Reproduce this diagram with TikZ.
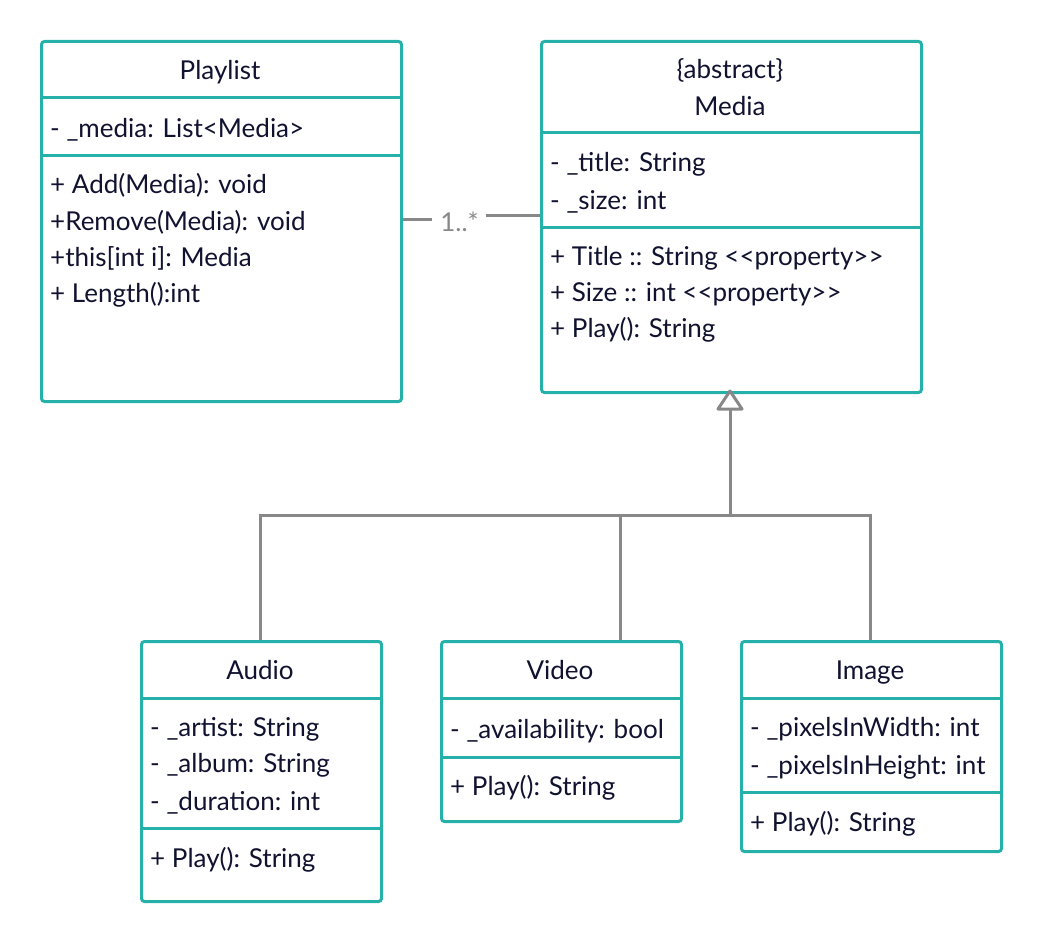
\documentclass[tikz,border=0pt]{standalone}
\usepackage{fontspec}
\setmainfont{Lato}
\definecolor{umlteal}{RGB}{38,176,170}
\definecolor{umlgray}{RGB}{136,136,136}
\definecolor{umltext}{RGB}{16,18,48}
\tikzset{
  umlbox/.style={draw=umlteal, line width=3pt, rounded corners=3pt, fill=white, anchor=north west, inner sep=0pt},
  divider/.style={draw=umlteal, line width=3pt},
  txt/.style={anchor=base west, inner sep=0pt, text=umltext, font=\fontsize{26}{30}\selectfont},
  ttl/.style={anchor=base, inner sep=0pt, text=umltext, font=\fontsize{26}{30}\selectfont},
  conn/.style={draw=umlgray, line width=3pt},
  lbl/.style={anchor=base, inner sep=0pt, text=umlgray, font=\fontsize{26}{30}\selectfont},
}
\begin{document}
\begin{tikzpicture}[x=1pt,y=-1pt]
\useasboundingbox (0,0) rectangle (1040,941);
% Playlist
\node[umlbox, minimum width=360pt, minimum height=360pt] (playlist) at (40,40) {};
\draw[divider] (playlist.west |- 0,98) -- (playlist.east |- 0,98);
\draw[divider] (playlist.west |- 0,156) -- (playlist.east |- 0,156);
\node[ttl] (pl-t) at (220,80) {Playlist};
\node[txt] (pl-a1) at (50,137.5) {- \_media: List<Media>};
\node[txt] (pl-m1) at (50,194) {+ Add(Media): void};
\node[txt] (pl-m2) at (50,230) {+Remove(Media): void};
\node[txt] (pl-m3) at (50,266) {+this[int i]: Media};
\node[txt] (pl-m4) at (50,302) {+ Length():int};
% Media
\node[umlbox, minimum width=380pt, minimum height=351pt] (media) at (540,40) {};
\draw[divider] (media.west |- 0,133) -- (media.east |- 0,133);
\draw[divider] (media.west |- 0,228) -- (media.east |- 0,228);
\node[ttl] (md-s) at (730,78.5) {\{abstract\}};
\node[ttl] (md-t) at (730,115.5) {Media};
\node[txt] (md-a1) at (550,172) {- \_title: String};
\node[txt] (md-a2) at (550,210) {- \_size: int};
\node[txt] (md-m1) at (550,265) {+ Title :: String <{}<property>{}>};
\node[txt] (md-m2) at (550,301) {+ Size :: int <{}<property>{}>};
\node[txt] (md-m3) at (550,337) {+ Play(): String};
% Audio
\node[umlbox, minimum width=240pt, minimum height=260pt] (audio) at (140,640) {};
\draw[divider] (audio.west |- 0,698) -- (audio.east |- 0,698);
\draw[divider] (audio.west |- 0,828) -- (audio.east |- 0,828);
\node[ttl] (au-t) at (260,679.5) {Audio};
\node[txt] (au-a1) at (150,736.5) {- \_artist: String};
\node[txt] (au-a2) at (150,772.5) {- \_album: String};
\node[txt] (au-a3) at (150,810.5) {- \_duration: int};
\node[txt] (au-m1) at (150,867.5) {+ Play(): String};
% Video
\node[umlbox, minimum width=240pt, minimum height=180pt] (video) at (440,640) {};
\draw[divider] (video.west |- 0,698) -- (video.east |- 0,698);
\draw[divider] (video.west |- 0,757) -- (video.east |- 0,757);
\node[ttl] (vi-t) at (560,679.5) {Video};
\node[txt] (vi-a1) at (450,738.5) {- \_availability: bool};
\node[txt] (vi-m1) at (450,795.5) {+ Play(): String};
% Image
\node[umlbox, minimum width=260pt, minimum height=210pt] (image) at (740,640) {};
\draw[divider] (image.west |- 0,698) -- (image.east |- 0,698);
\draw[divider] (image.west |- 0,792) -- (image.east |- 0,792);
\node[ttl] (im-t) at (870,679.5) {Image};
\node[txt] (im-a1) at (750,736.5) {- \_pixelsInWidth: int};
\node[txt] (im-a2) at (750,774.5) {- \_pixelsInHeight: int};
\node[txt] (im-m1) at (750,831.5) {+ Play(): String};
% Association
\node[lbl] (mult) at (459.5,231.5) {1..*};
\coordinate (a1) at (432,220);
\coordinate (a2) at (486,216);
\draw[conn] (playlist.east |- a1) -- (a1);
\draw[conn] (a2) -- (media.west |- a2);
% Generalization
\coordinate (tip) at (730,391);
\coordinate (tbase) at (730,409);
\coordinate (junction) at (730,515);
\draw[conn] (tbase) -- (junction);
\draw[conn] (audio.north -| 260,0) -- (260,515) -- (870,515) -- (image.north -| 870,0);
\draw[conn] (video.north -| 620,0) -- (620,515);
\draw[conn, fill=white, line join=round] (tip) -- (742,409) -- (718,409) -- cycle;
\end{tikzpicture}
\end{document}
